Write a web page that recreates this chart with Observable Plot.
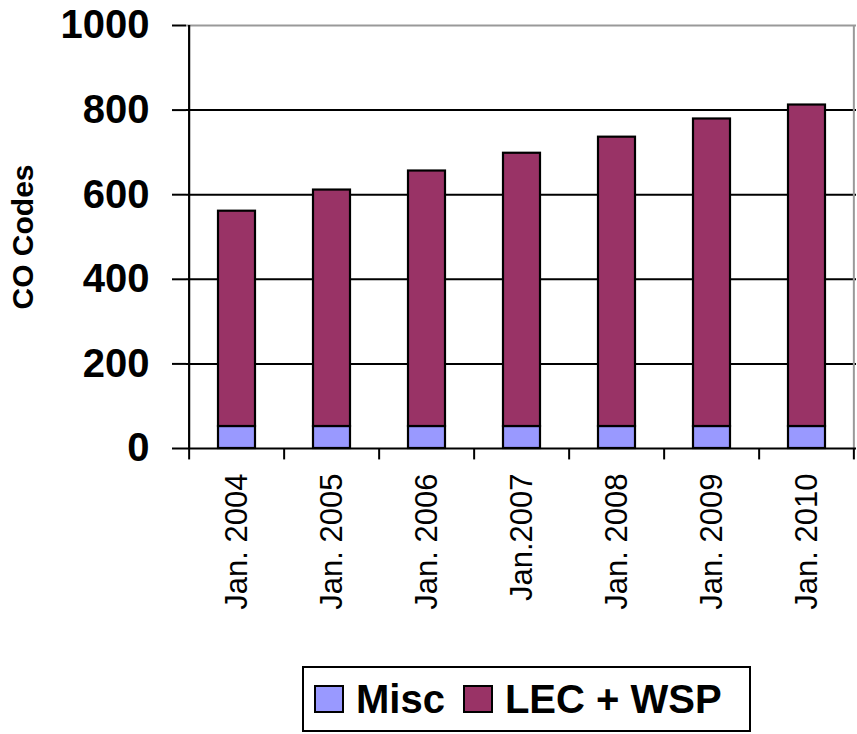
<!DOCTYPE html>
<html>
<head>
<meta charset="utf-8">
<script src="https://cdn.jsdelivr.net/npm/d3@7"></script>
<script src="https://cdn.jsdelivr.net/npm/@observablehq/plot@0.6"></script>
<style>
  body { margin: 0; background: #fff; font-family: Arial, "Liberation Sans", sans-serif; }
  #wrap { position: relative; width: 857px; height: 734px; }
  #legend {
    position: absolute; left: 302px; top: 666px; width: 445px; height: 62px;
    border: 2px solid #000; display: flex; align-items: center; box-sizing: content-box;
    font-weight: bold; font-size: 40px; color: #000; white-space: nowrap;
  }
  .sw { display: inline-block; width: 26px; height: 24px; border: 2px solid #000; margin-left: 10px; margin-right: 12px; }
</style>
</head>
<body>
<div id="wrap"><div id="chart"></div><div id="legend"></div></div>
<script>
const categories = ["Jan. 2004", "Jan. 2005", "Jan. 2006", "Jan.2007", "Jan. 2008", "Jan. 2009", "Jan. 2010"];
const seriesNames = ["Misc", "LEC + WSP"];
const miscValues = [52, 52, 52, 52, 52, 52, 52];
const lecWspValues = [509, 559, 604, 646, 684, 727, 760];
const seriesColors = ["#9999FF", "#993366"];
const yTicks = [0, 200, 400, 600, 800, 1000];
const yLabel = "CO Codes";

const data = [
  ...categories.map((c, i) => ({year: c, series: seriesNames[0], value: miscValues[i]})),
  ...categories.map((c, i) => ({year: c, series: seriesNames[1], value: lecWspValues[i]}))
];

const W = 857, H = 650, ML = 186, MR = 1, MT = 25, MB = 202;
const bw = (W - ML - MR) / categories.length;
const tickDown = -27;

const chart = Plot.plot({
  width: W, height: H,
  marginLeft: ML, marginRight: MR, marginTop: MT, marginBottom: MB,
  style: {fontFamily: "Arial, 'Liberation Sans', sans-serif", background: "#fff", color: "#000"},
  x: {type: "band", domain: categories, padding: 0, axis: null},
  y: {domain: [0, 1000], axis: null},
  color: {domain: seriesNames, range: seriesColors},
  marks: [
    // top border and gridlines
    Plot.ruleY([1000], {stroke: "#999", strokeWidth: 2}),
    Plot.ruleY(yTicks.filter(d => d > 0 && d < 1000), {stroke: "#000", strokeWidth: 2}),
    // right border
    Plot.ruleX([categories[categories.length - 1]], {dx: bw / 2 - 1, y1: 0, y2: 1000, stroke: "#999", strokeWidth: 2}),
    // bars
    Plot.barY(data, {x: "year", y: "value", fill: "series", stroke: "#000", strokeWidth: 2.2, insetLeft: 29, insetRight: 29}),
    // x axis baseline
    Plot.ruleY([0], {stroke: "#000", strokeWidth: 2.2}),
    // y axis line
    Plot.ruleX([categories[0]], {dx: -bw / 2, y1: 0, y2: 1000, stroke: "#000", strokeWidth: 2.2}),
    // x ticks at band boundaries
    Plot.ruleX(categories, {x: d => d, y1: 0, y2: tickDown, dx: -bw / 2, stroke: "#000", strokeWidth: 2}),
    Plot.ruleX([categories[categories.length - 1]], {y1: 0, y2: tickDown, dx: bw / 2 - 1, stroke: "#000", strokeWidth: 2}),
    // y axis ticks & labels
    Plot.axisY({ticks: yTicks, tickSize: 14, tickPadding: 23, tickFormat: d => String(d), fontSize: 40, fontWeight: "bold", strokeWidth: 2, label: null}),
    // x labels
    Plot.text(categories, {x: d => d, y: 0, dy: 25, rotate: -90, textAnchor: "end", lineAnchor: "middle", fontSize: 31, fill: "#000"}),
    // y axis title
    Plot.text([yLabel], {frameAnchor: "left", dx: -163, rotate: -90, textAnchor: "middle", lineAnchor: "middle", fontSize: 30, fontWeight: "bold", fill: "#000"})
  ]
});
document.getElementById("chart").appendChild(chart);

const legend = document.getElementById("legend");
seriesNames.forEach((name, i) => {
  const sw = document.createElement("span");
  sw.className = "sw";
  sw.style.background = seriesColors[i];
  if (i > 0) sw.style.marginLeft = "18px";
  legend.appendChild(sw);
  const t = document.createElement("span");
  t.textContent = name;
  legend.appendChild(t);
});
</script>
</body>
</html>
